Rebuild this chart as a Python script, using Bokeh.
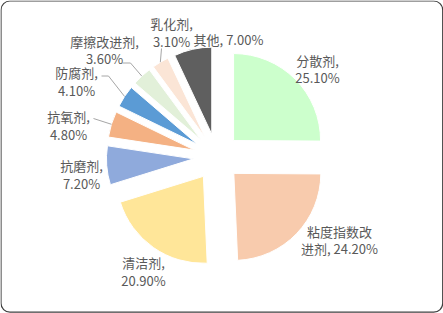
import math
from bokeh.plotting import figure
from bokeh.models import Range1d, ColumnDataSource
from bokeh.core.properties import value
from bokeh.embed import file_html
from bokeh.resources import INLINE

# ---------------- data ----------------
categories = ["分散剂", "粘度指数改进剂", "清洁剂", "抗磨剂", "抗氧剂",
              "防腐剂", "摩擦改进剂", "乳化剂", "其他"]
shares = [25.1, 24.2, 20.9, 7.2, 4.8, 4.1, 3.6, 3.1, 7.0]

# ---------------- style / layout ----------------
colors = ["#CCFFCC", "#F8CBAD", "#FFE699", "#8FAADC", "#F4B183",
          "#5B9BD5", "#E2F0D9", "#FBE5D6", "#5F5F5F"]
# how each data label wraps: "split" -> break after comma, int -> break at char index, "one" -> single line
label_wrap = ["split", 5, "split", "split", "split", "split", "split", "split", "one"]
# label centres in screen pixels (x, y from top)
label_pos = [(317, 68.5), (339, 239.5), (143, 271), (81, 174), (68, 125),
             (76, 81), (104, 49.5), (171, 32), (228, 38.5)]
# leader line points (screen px) from the label side; end point is computed on the slice arc
leaders = {4: [(93, 118)], 5: [(101, 75.5), (108, 75.5)],
           6: [(122, 62.5), (130, 62.5)], 7: [(161, 48)]}

W, H = 443, 313
CX, CY_S = 216.4, 156.6     # pie centre (screen)
R = 87                      # radius
EXPLODE = 23.5              # explosion distance
FONT = value("Noto Sans CJK SC")
TXT = "#595959"


def sy(y):
    return H - y


CY = sy(CY_S)
total = sum(shares)
starts, ends, xs, ys, mids = [], [], [], [], []
c = 0.0
for v in shares:
    c0, c1 = c / total, (c + v) / total
    c += v
    a0 = math.pi / 2 - 2 * math.pi * c0
    a1 = math.pi / 2 - 2 * math.pi * c1
    m = (a0 + a1) / 2
    starts.append(a0)
    ends.append(a1)
    mids.append(m)
    xs.append(CX + EXPLODE * math.cos(m))
    ys.append(CY + EXPLODE * math.sin(m))

src = ColumnDataSource(dict(x=xs, y=ys, start=starts, end=ends, color=colors))

p = figure(width=W, height=H, output_backend="svg", toolbar_location=None,
           x_range=Range1d(0, W), y_range=Range1d(0, H), min_border=0)
p.axis.visible = False
p.grid.visible = False
p.outline_line_color = None
p.background_fill_color = "white"
p.border_fill_color = "white"

# rounded chart border
p.quad(left=[0.5], right=[442.2], bottom=[sy(311.7)], top=[sy(0.5)],
       fill_color="white", line_color="#404040", line_width=1.2, border_radius=9)

p.wedge(x="x", y="y", radius=R, start_angle="start", end_angle="end",
        direction="clock", fill_color="color", line_color="white", line_width=1,
        source=src)

# leader lines
lx, ly = [], []
for i, pts in leaders.items():
    ex = xs[i] + R * math.cos(mids[i])
    ey = ys[i] + R * math.sin(mids[i])
    lx.append([q[0] for q in pts] + [ex])
    ly.append([sy(q[1]) for q in pts] + [ey])
p.multi_line(xs=lx, ys=ly, line_color="#A6A6A6", line_width=1)

# labels
texts = []
for cat, v, wmode in zip(categories, shares, label_wrap):
    pct = f"{v:.2f}%"
    if wmode == "one":
        texts.append(f"{cat}, {pct}")
    elif wmode == "split":
        texts.append(f"{cat},\n{pct}")
    else:
        full = f"{cat}, {pct}"
        texts.append(full[:wmode] + "\n" + full[wmode:])

lsrc = ColumnDataSource(dict(x=[q[0] for q in label_pos],
                             y=[sy(q[1]) for q in label_pos], t=texts))
p.text(x="x", y="y", text="t", source=lsrc, text_font=FONT,
       text_font_size="13px", text_color=TXT, text_align="center",
       text_baseline="middle", text_line_height=0.9)

open("out.html", "w").write(file_html(p, INLINE))
